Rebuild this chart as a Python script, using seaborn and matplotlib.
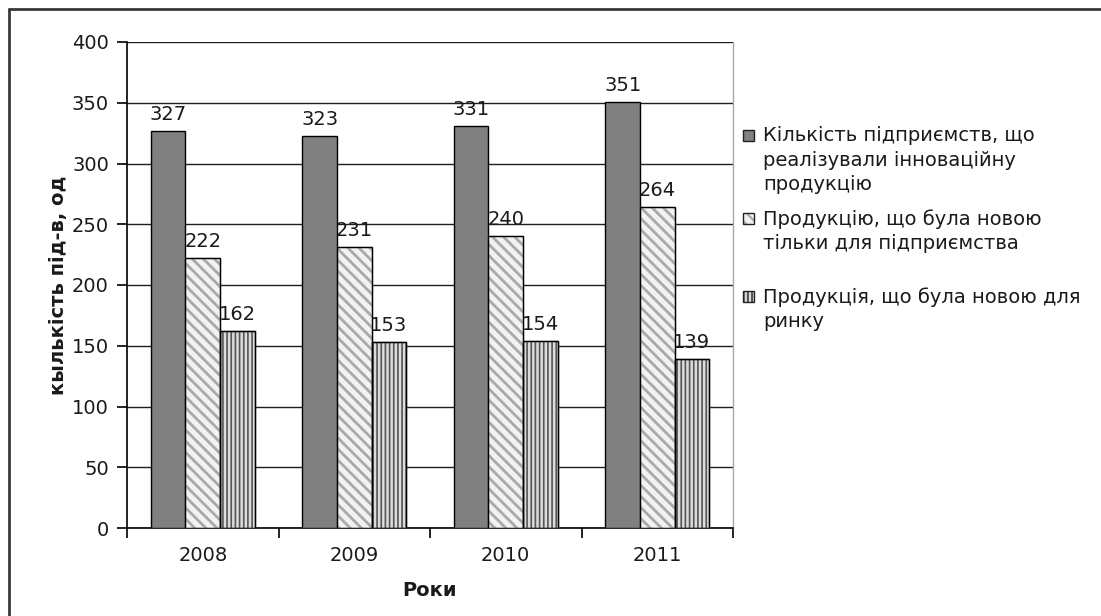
import matplotlib
matplotlib.use("Agg")
import matplotlib.pyplot as plt
from matplotlib.patches import Rectangle
from matplotlib.lines import Line2D
from matplotlib.ticker import FixedLocator
import pandas as pd
import seaborn as sns

# ---- data ----
years = ["2008", "2009", "2010", "2011"]
series_names = [
    "Кількість підприємств, що\nреалізували інноваційну\nпродукцію",
    "Продукцію, що була новою\nтільки для підприємства",
    "Продукція, що була новою для\nринку",
]
innovating = [327, 323, 331, 351]
new_for_firm = [222, 231, 240, 264]
new_for_market = [162, 153, 154, 139]
y_ticks = [0, 50, 100, 150, 200, 250, 300, 350, 400]
y_label = "кылькість під-в, од"
x_label = "Роки"

# ---- styling ----
fills = ["#808080", "#f2f2f2", "#dcdcdc"]
hatches = [None, "\\\\\\", "||||"]
hatch_colors = [None, "#a9a9a9", "#555555"]
hatch_widths = [None, 2.0, 1.2]
text_color = "#1a1a1a"
fs = 14

sns.set_theme(style="white")
plt.rcParams["font.family"] = ["DejaVu Sans"]
plt.rcParams["hatch.linewidth"] = 1.5

W, H = 1101, 616


def fx(px):
    return px / W


def fy(py):
    return 1 - py / H


df = pd.DataFrame({
    "year": years * 3,
    "series": [series_names[0]] * 4 + [series_names[1]] * 4 + [series_names[2]] * 4,
    "value": innovating + new_for_firm + new_for_market,
})

fig = plt.figure(figsize=(W / 100, H / 100), dpi=100)
ax = fig.add_axes([fx(127), fy(528), fx(733) - fx(127), fy(42) - fy(528)])

sns.barplot(
    data=df, x="year", y="value", hue="series",
    order=years, hue_order=series_names,
    palette=fills, saturation=1, width=0.685,
    errorbar=None, legend=False, ax=ax,
    edgecolor="black", linewidth=1.0, zorder=3,
)

for i, cont in enumerate(ax.containers):
    for p in cont.patches:
        if hatches[i]:
            p.set_hatch(hatches[i])
            p.set_edgecolor(hatch_colors[i])
            if hasattr(p, "set_hatch_linewidth"):
                p.set_hatch_linewidth(hatch_widths[i])
            ax.add_patch(Rectangle(p.get_xy(), p.get_width(), p.get_height(),
                                   fill=False, edgecolor="black", linewidth=1.0,
                                   zorder=4))
    ax.bar_label(cont, padding=5, fontsize=fs, color=text_color, zorder=5)

ax.set_xlim(-0.5, len(years) - 0.5)
ax.set_ylim(y_ticks[0], y_ticks[-1])
ax.set_yticks(y_ticks)
ax.yaxis.grid(True, color="#1e1e1e", linewidth=1.0)
ax.xaxis.grid(False)
ax.set_axisbelow(True)

ax.xaxis.set_minor_locator(FixedLocator([k - 0.5 for k in range(len(years) + 1)]))
ax.tick_params(axis="x", which="major", length=0, pad=13, labelsize=fs,
               labelcolor=text_color)
ax.tick_params(axis="x", which="minor", bottom=True, length=7, width=1.2,
               direction="out", color="black")
ax.tick_params(axis="y", left=True, length=7, width=1.2, direction="out",
               color="black", pad=6, labelsize=fs, labelcolor=text_color)

for side in ["left", "bottom"]:
    ax.spines[side].set_color("black")
    ax.spines[side].set_linewidth(1.2)
ax.spines["right"].set_color("#a8a8a8")
ax.spines["right"].set_linewidth(1.0)
ax.spines["top"].set_visible(False)

ax.set_ylabel(y_label, fontsize=fs, fontweight="bold", color=text_color)
ax.yaxis.set_label_coords(-0.097, 0.5)
ax.set_xlabel(x_label, fontsize=fs, fontweight="bold", color=text_color)
ax.xaxis.set_label_coords(0.5, -0.11)

# ---- legend ----
entry_tops = [126, 209, 287]
for i, name in enumerate(series_names):
    top = entry_tops[i]
    box_top = top + 4
    kw = dict(transform=fig.transFigure, zorder=5)
    rect = ((fx(743), fy(box_top + 11)), fx(11), fy(box_top) - fy(box_top + 11))
    if hatches[i]:
        fig.add_artist(Rectangle(*rect, facecolor=fills[i], edgecolor=hatch_colors[i],
                                 hatch=hatches[i], linewidth=0.0, **kw))
    else:
        fig.add_artist(Rectangle(*rect, facecolor=fills[i], linewidth=0.0, **kw))
    fig.add_artist(Rectangle(*rect, fill=False, edgecolor="#222222", linewidth=1.0, **kw))
    fig.text(fx(763), fy(top), name, ha="left", va="top", fontsize=fs,
             color=text_color, linespacing=1.37)

# ---- outer frame ----
fig.add_artist(Line2D([fx(9), 1], [fy(9), fy(9)], transform=fig.transFigure,
                      color="#3a3a3a", linewidth=2))
fig.add_artist(Line2D([fx(9), fx(9)], [fy(9), 0], transform=fig.transFigure,
                      color="#3a3a3a", linewidth=2))

fig.savefig("out.png", dpi=100, facecolor="white")
